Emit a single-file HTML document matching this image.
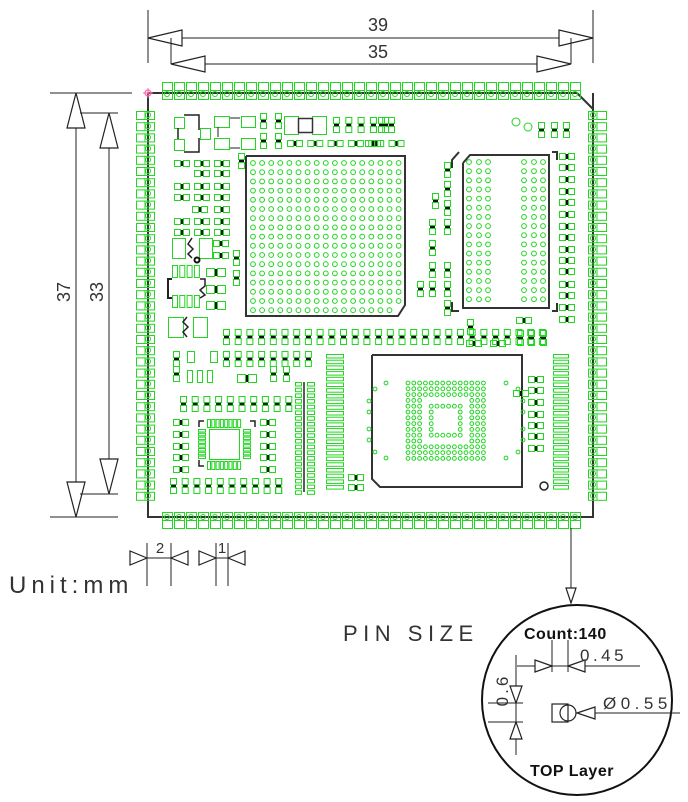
<!DOCTYPE html>
<html><head><meta charset="utf-8">
<style>
html,body{margin:0;padding:0;background:#fff;}
svg{display:block;}
text{font-family:"Liberation Sans",sans-serif;}
</style></head>
<body>
<svg id="s" width="688" height="802" viewBox="0 0 688 802" xmlns="http://www.w3.org/2000/svg">
<g id="g"></g>
<g fill="#333" font-size="18">
<text x="378" y="31" text-anchor="middle">39</text>
<text x="378" y="58" text-anchor="middle">35</text>
<text transform="translate(70,292) rotate(-90)" text-anchor="middle">37</text>
<text transform="translate(103,292) rotate(-90)" text-anchor="middle">33</text>
<text x="160" y="553" text-anchor="middle" font-size="15">2</text>
<text x="222" y="553" text-anchor="middle" font-size="15">1</text>
<text x="9" y="593" font-size="24" letter-spacing="5">Unit:mm</text>
<text x="343" y="641" font-size="22" letter-spacing="5.5">PIN SIZE</text>
<text x="524" y="639" font-size="16" font-weight="bold" fill="#111" letter-spacing="0.5">Count:140</text>
<text x="580" y="661" font-size="17" letter-spacing="3.5">0.45</text>
<text x="603" y="709" font-size="17" letter-spacing="4.5">Ø0.55</text>
<text transform="translate(508,690) rotate(-90)" font-size="17" letter-spacing="3" text-anchor="middle">0.6</text>
<text x="530" y="776" font-size="16" font-weight="bold" fill="#111" letter-spacing="0.5">TOP Layer</text>
</g>
</svg>
<script>
const NS='http://www.w3.org/2000/svg',g=document.getElementById('g');
const G='#22d622',K='#222';
function el(t,a){const e=document.createElementNS(NS,t);for(const k in a)e.setAttribute(k,a[k]);g.appendChild(e);return e;}
function R(x,y,w,h,c=G,sw=1){el('rect',{x:x+.5,y:y+.5,width:w,height:h,fill:'none',stroke:c,'stroke-width':sw});}
function C(x,y,r,c=G,sw=1){el('circle',{cx:x,cy:y,r:r,fill:'none',stroke:c,'stroke-width':sw});}
function L(a,b,c,d,col=K,w=1){el('line',{x1:a,y1:b,x2:c,y2:d,stroke:col,'stroke-width':w});}
function P(pts,col=K,w=1.5){el('polyline',{points:pts,fill:'none',stroke:col,'stroke-width':w});}
function arr(tx,ty,dir,len,h){let p;
 if(dir=='l')p=[tx,ty,tx+len,ty-h,tx+len,ty+h];
 if(dir=='r')p=[tx,ty,tx-len,ty-h,tx-len,ty+h];
 if(dir=='u')p=[tx,ty,tx-h,ty+len,tx+h,ty+len];
 if(dir=='d')p=[tx,ty,tx-h,ty-len,tx+h,ty-len];
 el('polygon',{points:p.join(' '),fill:'#fff',stroke:K,'stroke-width':1.2});}
function hp(x,y,s=6){R(x,y,s,s);R(x+s+3,y,s,s);L(x+s+2,y+1,x+s+2,y+s,'#111',2);}
function vp(x,y,s=6){R(x,y,s,s);R(x,y+s+3,s,s);L(x+1,y+s+2,x+s,y+s+2,'#111',2);}

L(148,10,148,63);L(593,10,593,63);L(148,38,593,38);arr(148,38,'l',34,8);arr(593,38,'r',34,8);
L(171,38,171,64);L(571,38,571,64);L(171,64,571,64);arr(171,64,'l',34,8);arr(571,64,'r',34,8);
L(50,93,132,93);L(50,517,118,517);L(76,93,76,517);arr(76,93,'u',35,9);arr(76,517,'d',35,9);
L(80,113,118,113);L(80,494,118,494);L(109,113,109,494);arr(109,113,'u',35,9);arr(109,494,'d',35,9);
L(147,543,147,586);L(171,543,171,586);L(130,558,188,558);arr(147,558,'r',17,7);arr(171,558,'l',17,7);
L(216,543,216,586);L(228,543,228,586);L(199,558,245,558);arr(216,558,'r',17,7);arr(228,558,'l',17,7);

L(148,93,577,93,'#333',2);L(577,93,593,109,'#333',2);L(593,93,593,517,'#333',2);
L(148,93,148,517,'#333',2);L(147,517,594,517,'#333',2);
C(148,93,3,'#f6a',1.2);L(143,93,153,93,'#f6a');L(148,88,148,98,'#f6a');

for(let i=0;i<35;i++){const x=167+i*12;
 R(x-5,82,10,17);L(x-5,90.5,x+5,90.5,G);C(x,94,2.5);
 R(x-5,512,10,16);L(x-5,520.5,x+5,520.5,G);C(x,517,2.5);
 const y=115+i*11.2;
 R(136,y-4,18,8);L(145,y-4,145,y+4,G);C(148,y,2.5);
 R(588,y-4,18,8);L(597,y-4,597,y+4,G);C(593,y,2.5);}

P('246,156 405,156 405,305 398,316 246,316 246,156','#333',2);
for(let r=0;r<17;r++)for(let c=0;c<17;c++){if(r==16&&c==16)continue;C(253+c*9.1,163+r*9.2,2.4);}

P('463,163 470,155 549,155 549,308 463,308 463,163','#333',2);
P('452,168 452,160 459,152','#333',2);P('552,152 557,152 557,160','#333',2);
P('452,302 452,311 459,311','#333',2);P('552,311 557,311 557,303','#333',2);
[469,479,488,524,534,543].forEach(x=>{for(let r=0;r<16;r++)C(x,162+r*9.15,2.4);});
[153,164,176,188,199,211,223,234,246,257,268,281,292,304,316].forEach(y=>hp(559,y));
C(516,122,4);C(528,127,4);vp(538,122);vp(551,122);vp(563,122);
[162,181,200,219,262,281,300].forEach(y=>vp(444,y));vp(432,193);
[219,240,262,281].forEach(y=>vp(429,y));vp(417,281);

P('372,355 522,355 522,487 380,487 372,479 372,355','#333',2);
for(let r=0;r<14;r++)for(let c=0;c<14;c++){
 const outer=(r<3||r>10||c<3||c>10);
 const inner=((r==4||r==9)&&c>=4&&c<=9)||((c==4||c==9)&&r>=4&&r<=9);
 if(outer||inner)C(408+c*5.8,383+r*5.8,1.9);}
[[386,383],[506,383],[375,389],[518,389],[369,401],[523,401],[369,412],[523,412],[369,429],[523,429],[369,440],[523,440],[375,452],[518,452],[386,458],[506,458]].forEach(p=>C(p[0],p[1],1.9));
[376,387,399,411,422,433,445].forEach(y=>hp(528,y));
C(544,486,4,'#222',1.5);
for(let i=0;i<24;i++){R(553,354+i*5.7,15,3.5);R(326,354+i*5.7,17,3.5);}
hp(348,474);hp(348,484);

for(let i=0;i<20;i++){R(295,382+i*5.7,6,3.5);R(307,382+i*5.7,7,3.5);}
L(304,382,304,492,'#222',1.5);

for(let i=0;i<28;i++)vp(223+i*11.7,329);
for(let i=0;i<8;i++)vp(223+i*11.7,351);
vp(173,351);R(187,351,7,11);R(210,351,7,11);R(187,370,5,12);R(197,370,5,12);R(207,370,5,12);vp(173,366);
hp(237,374,8);vp(270,366);vp(283,366);
for(let i=0;i<10;i++)vp(180+i*11.7,396);
for(let i=0;i<10;i++)vp(170+i*11.7,478);
vp(275,478);
vp(467,319);hp(516,317);vp(517,330);vp(528,330);vp(540,330);hp(466,340);hp(490,340);
R(209,429,30,30);
for(let i=0;i<8;i++){R(207+i*4.3,419,3,8);R(207+i*4.3,461,3,8);R(198,429+i*3.8,7,2.5);R(243,429+i*3.8,7,2.5);}
P('199,427 199,421 204,421','#222',1.5);P('250,421 255,421 255,427','#222',1.5);P('199,460 199,466 204,466','#222',1.5);
[419,431,443,454,466].forEach(y=>{hp(173,y);hp(260,y);});

R(174,117,10,11);R(200,128,10,11);R(174,139,10,11);P('184,115 199,115 199,130','#222',1.5);P('184,152 199,152 199,138','#222',1.5);L(178,128,178,139,'#222',1.5);
R(214,116,15,11);R(214,138,15,11);R(241,116,14,11);R(241,138,14,11);L(230,118,240,118);L(230,148,240,148);L(218,127,218,137);
vp(260,113);vp(260,133);vp(275,113);vp(275,133);
R(284,116,14,18);R(312,116,14,18);R(298,118,14,14,'#333',1.5);
for(let i=0;i<5;i++)vp(333+i*12.3,117);
vp(370,117);vp(378,117);vp(388,117);
for(let i=0;i<6;i++)hp(287+i*20.3,140);
hp(365,140);vp(238,153);
const rows=[[160,[174,194,214]],[170,[194,214]],[183,[174,194,214]],[194,[174,194,214]],[206,[192,214]],[218,[174,194,214]],[229,[174,194,214]],[240,[213]],[252,[213]]];
rows.forEach(r=>r[1].forEach(x=>hp(x,r[0])));
vp(233,250);vp(233,270);
R(172,238,13,20);R(199,238,13,20);P('192,238 188,244 193,249 188,254 192,258','#222',1.5);C(197,260,2.5,'#111',2);
for(let i=0;i<4;i++){R(172+i*7.3,265,5,12);R(172+i*7.3,295,5,12);}
P('172,279 168,279 168,298 172,298','#222',2);P('200,279 205,279 205,286 200,290 205,295 200,298','#222',1.5);
hp(206,268,8);hp(206,285,8);hp(206,301,8);
R(168,317,15,20);R(193,317,14,20);P('187,317 183,322 188,327 183,332 187,337','#222',1.5);
hp(513,390);

C(577,700,95,'#111',2);
L(571,528,571,603);arr(571,603,'d',15,5);
L(552,640,552,672);L(568,640,568,672);L(517,666,640,666);arr(552,666,'r',17,6);arr(568,666,'l',17,6);
L(516,655,516,755);L(488,703,523,703);L(488,722,523,722);arr(516,703,'d',17,6);arr(516,722,'u',17,6);
el('rect',{x:552,y:704,width:16,height:18,fill:'none',stroke:'#222','stroke-width':1.2});
C(568,713,8,'#222',1.2);
L(577,713,680,713);arr(577,713,'l',18,6);
</script>
</body></html>
